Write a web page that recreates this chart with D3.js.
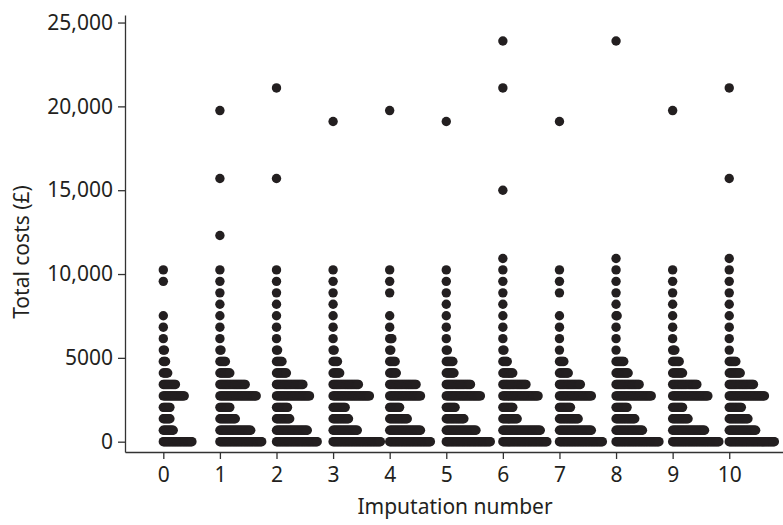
<!DOCTYPE html>
<html>
<head>
<meta charset="utf-8" />
<title>Total costs by imputation</title>
<style type="text/css">
  html, body { margin: 0; background: #fff; }
  svg { display: block; }
  text { font-family: "Noto Sans", "Open Sans", sans-serif; fill: #231f20; }
  .axis path, .axis line { stroke: #333; stroke-width: 1.3px; }
  .dot { fill: #231f20; }
</style>
</head>
<body>
<div id="container"></div>
<script src="https://cdn.jsdelivr.net/npm/d3@7"></script>
<script>
// imputation number on the x axis
var imputations = [0, 1, 2, 3, 4, 5, 6, 7, 8, 9, 10];

// centre of each cost bin (£), one row of dots per bin
var costBins = [0, 683, 1366, 2049, 2732, 3415, 4098, 4781, 5464, 6147,
                6830, 7513, 8196, 8879, 9562, 10245, 10928];

// number of patients in each bin, one list per imputation (bins 0..16)
var counts0  = [27, 10,  7,  7, 20, 12,  5, 3, 2, 1, 1, 1, 0, 0, 1, 1, 0];
var counts1  = [39, 29, 15, 10, 34, 24, 10, 6, 2, 1, 1, 1, 1, 1, 1, 1, 0];
var counts2  = [38, 29, 13, 11, 31, 25, 10, 6, 2, 1, 1, 1, 1, 1, 1, 1, 0];
var counts3  = [44, 23, 15, 12, 34, 24,  7, 5, 2, 1, 1, 1, 1, 1, 1, 1, 0];
var counts4  = [38, 29, 17, 10, 29, 25,  7, 6, 2, 3, 1, 1, 0, 1, 1, 1, 0];
var counts5  = [41, 28, 17,  9, 32, 23,  8, 7, 2, 1, 1, 1, 1, 1, 1, 1, 0];
var counts6  = [41, 35, 14, 10, 33, 22, 10, 5, 2, 1, 1, 1, 1, 1, 1, 1, 1];
var counts7  = [40, 30, 18, 11, 30, 20,  9, 5, 1, 1, 1, 1, 0, 1, 1, 1, 0];
var counts8  = [40, 25, 18, 11, 33, 22, 12, 8, 1, 1, 1, 2, 1, 1, 1, 1, 1];
var counts9  = [43, 30, 15, 10, 33, 23, 10, 7, 3, 1, 1, 1, 1, 1, 1, 1, 0];
var counts10 = [42, 25, 18, 12, 33, 23, 11, 7, 1, 1, 1, 1, 1, 1, 1, 1, 1];

var allCounts = [counts0, counts1, counts2, counts3, counts4, counts5,
                 counts6, counts7, counts8, counts9, counts10];

// single high-cost patients (£)
var outliers = [
  [],
  [12300, 15700, 19750],
  [15700, 21100],
  [19100],
  [19750],
  [19100],
  [15000, 21100, 23900],
  [19100],
  [23900],
  [19750],
  [15700, 21100]
];

var yTicks = [0, 5000, 10000, 15000, 20000, 25000];

var width = 783, height = 525;
var dotR = 4.7, dotStep = 1.1;

var svg = d3.select("#container").append("svg")
    .attr("width", width)
    .attr("height", height);

var x = d3.scaleLinear()
    .domain([-0.677, 10.95])
    .range([125, 783]);

var y = d3.scaleLinear()
    .domain([-615, 25450])
    .range([452, 15]);

// dots: each bin row stacks to the right of the imputation position
var dots = [];
allCounts.forEach(function(c, g) {
  c.forEach(function(n, b) {
    for (var i = 0; i < n; i++) {
      dots.push({imp: imputations[g], cost: costBins[b], i: i});
    }
  });
  outliers[g].forEach(function(v) {
    dots.push({imp: imputations[g], cost: v, i: 0});
  });
});

svg.append("g").selectAll("circle")
    .data(dots)
  .enter().append("circle")
    .attr("class", "dot")
    .attr("cx", function(d) { return x(d.imp) + d.i * dotStep; })
    .attr("cy", function(d) { return y(d.cost); })
    .attr("r", dotR);

var yAxis = d3.axisLeft(y)
    .tickValues(yTicks)
    .tickSize(7)
    .tickSizeOuter(0)
    .tickPadding(5)
    .tickFormat(function(d) { return d >= 10000 ? d3.format(",")(d) : String(d); });

var xAxis = d3.axisBottom(x)
    .tickValues(imputations)
    .tickSize(7)
    .tickSizeOuter(0)
    .tickPadding(8)
    .tickFormat(d3.format("d"));

svg.append("g")
    .attr("class", "axis")
    .attr("transform", "translate(125,0)")
    .call(yAxis)
    .selectAll("text")
    .style("font-size", "21px");

svg.append("g")
    .attr("class", "axis")
    .attr("transform", "translate(0,452)")
    .call(xAxis)
    .selectAll("text")
    .style("font-size", "21px");

svg.selectAll(".axis text").attr("fill", "#231f20");

svg.append("text")
    .attr("x", 455)
    .attr("y", 514)
    .attr("text-anchor", "middle")
    .style("font-size", "21px")
    .text("Imputation number");

svg.append("text")
    .attr("transform", "translate(29,252) rotate(-90)")
    .attr("text-anchor", "middle")
    .style("font-size", "21px")
    .text("Total costs (£)");
</script>
</body>
</html>
